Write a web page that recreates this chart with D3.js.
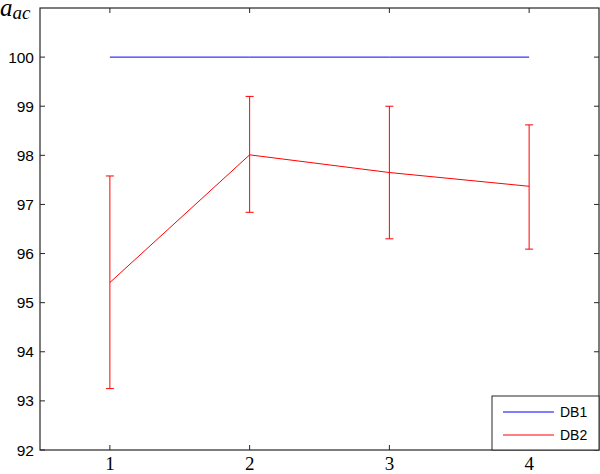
<!DOCTYPE html>
<html><head><meta charset="utf-8">
<script src="https://cdn.jsdelivr.net/npm/d3@7"></script>
<style>body{margin:0;background:#fff}svg{display:block}</style>
</head><body>
<script>
const xValues = [1, 2, 3, 4];
const db1 = [100, 100, 100, 100];
const db2 = [95.41, 98.01, 97.65, 97.37];
const db2Upper = [97.58, 99.2, 99.0, 98.62];
const db2Lower = [93.25, 96.84, 96.30, 96.09];
const yTicks = [92, 93, 94, 95, 96, 97, 98, 99, 100];
const xTicks = [1, 2, 3, 4];
const seriesNames = ["DB1", "DB2"];

const W = 600, H = 474;
const L = 40, R = 599, T = 8, B = 450;
const svg = d3.select("body").append("svg").attr("width", W).attr("height", H);
const x = d3.scaleLinear().domain([0.5, 4.5]).range([L, R]);
const y = d3.scaleLinear().domain([92, 101]).range([B, T]);
const axisColor = "#262626";

svg.append("rect").attr("x", L).attr("y", T).attr("width", R - L).attr("height", B - T)
  .attr("fill", "none").attr("stroke", axisColor).attr("stroke-width", 1.2);

const tl = 5;
const gy = svg.append("g");
yTicks.forEach(v => {
  const yy = y(v);
  gy.append("line").attr("x1", L).attr("x2", L + tl).attr("y1", yy).attr("y2", yy).attr("stroke", axisColor);
  gy.append("line").attr("x1", R - tl).attr("x2", R).attr("y1", yy).attr("y2", yy).attr("stroke", axisColor);
  gy.append("text").attr("x", 34).attr("y", yy).attr("dy", "0.36em").attr("text-anchor", "end")
    .attr("font-family", "Liberation Sans, Arial, sans-serif").attr("font-size", 15.5).attr("fill", "#000").text(v);
});
const gx = svg.append("g");
xTicks.forEach(v => {
  const xx = x(v);
  gx.append("line").attr("x1", xx).attr("x2", xx).attr("y1", B).attr("y2", B - tl).attr("stroke", axisColor);
  gx.append("line").attr("x1", xx).attr("x2", xx).attr("y1", T).attr("y2", T + tl).attr("stroke", axisColor);
  gx.append("text").attr("x", xx).attr("y", 470).attr("text-anchor", "middle")
    .attr("font-family", "Liberation Serif, Times New Roman, serif").attr("font-size", 19).attr("fill", "#000").text(v);
});

const lab = svg.append("text").attr("x", 0).attr("y", 16)
  .attr("font-family", "Liberation Serif, serif").attr("font-style", "italic").attr("fill", "#000");
lab.append("tspan").attr("font-size", 25).text("a");
lab.append("tspan").attr("font-size", 19).attr("dy", 3).text("ac");

const line = d3.line().x((d, i) => x(xValues[i])).y(d => y(d));
svg.append("path").datum(db1).attr("d", line).attr("fill", "none").attr("stroke", "#0000ff").attr("stroke-width", 1);
svg.append("path").datum(db2).attr("d", line).attr("fill", "none").attr("stroke", "#ff0000").attr("stroke-width", 1);

const eb = svg.append("g").attr("stroke", "#ff0000").attr("stroke-width", 1);
xValues.forEach((xv, i) => {
  const xx = x(xv);
  eb.append("line").attr("x1", xx).attr("x2", xx).attr("y1", y(db2Upper[i])).attr("y2", y(db2Lower[i]));
  eb.append("line").attr("x1", xx - 4).attr("x2", xx + 4).attr("y1", y(db2Upper[i])).attr("y2", y(db2Upper[i]));
  eb.append("line").attr("x1", xx - 4).attr("x2", xx + 4).attr("y1", y(db2Lower[i])).attr("y2", y(db2Lower[i]));
});

const lg = svg.append("g");
lg.append("rect").attr("x", 492).attr("y", 396).attr("width", R - 492).attr("height", B - 396)
  .attr("fill", "#fff").attr("stroke", axisColor).attr("stroke-width", 1);
const colors = ["#0000ff", "#ff0000"];
seriesNames.forEach((n, i) => {
  const yy = 412 + i * 23;
  lg.append("line").attr("x1", 503).attr("x2", 554).attr("y1", yy).attr("y2", yy).attr("stroke", colors[i]);
  lg.append("text").attr("x", 560).attr("y", yy).attr("dy", "0.36em")
    .attr("font-family", "Liberation Sans, Arial, sans-serif").attr("font-size", 14).attr("fill", "#000").text(n);
});
</script>
</body></html>
